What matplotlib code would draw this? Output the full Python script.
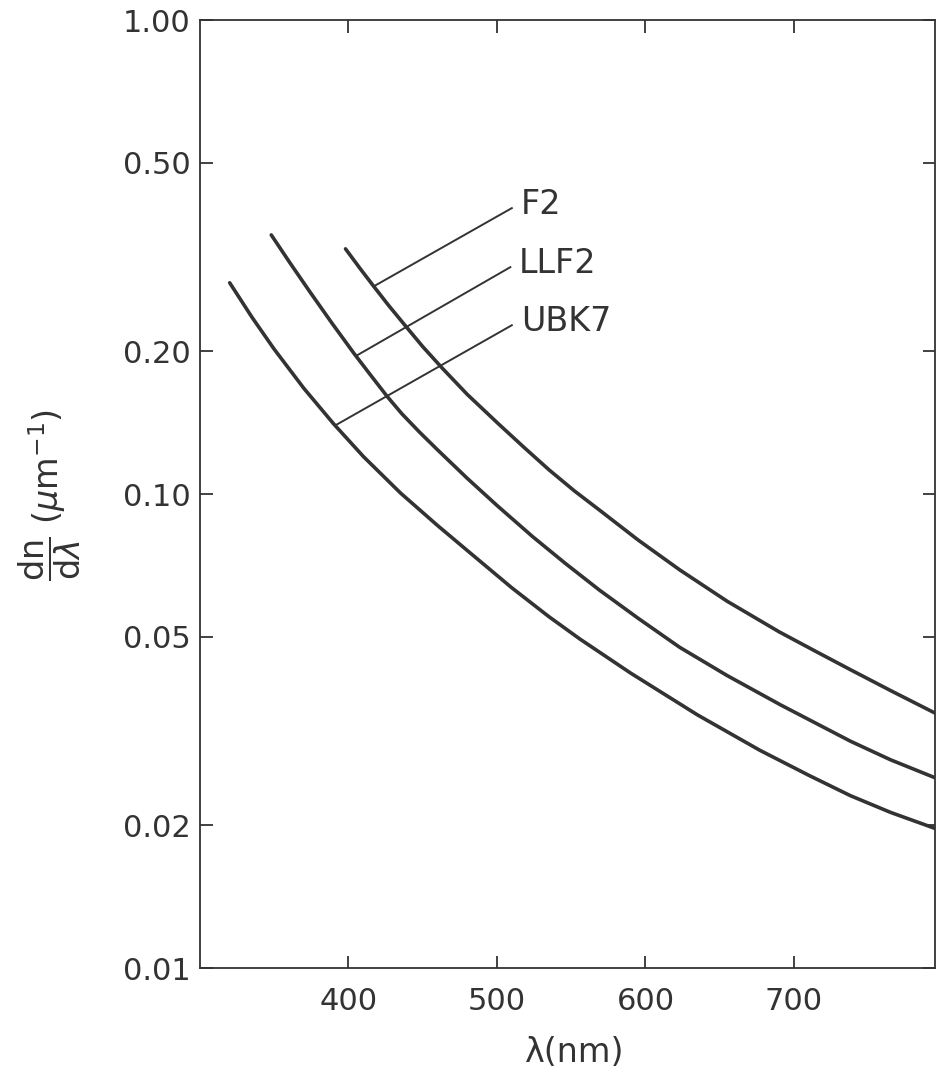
import numpy as np
import matplotlib.pyplot as plt

# values (wavelength in nm, dn/dlambda in 1/um)
wl_f2 = [398, 408, 417, 427, 437, 450, 463, 480, 501, 518, 535, 552, 569, 595,
         623, 655, 690, 715, 738, 765, 795]
dn_f2 = [0.329, 0.2985, 0.2742, 0.250, 0.229, 0.2046, 0.1845, 0.1622, 0.1406, 0.1256,
         0.1125, 0.1016, 0.0925, 0.080, 0.0692, 0.0594, 0.0512, 0.0465, 0.0426, 0.0385, 0.0345]

wl_llf2 = [348, 361, 374, 389, 404, 415, 426, 436, 448, 460, 480, 500, 524, 546, 569,
           595, 623, 655, 691, 738, 765, 795]
dn_llf2 = [0.352, 0.306, 0.267, 0.229, 0.1974, 0.178, 0.1607, 0.1476, 0.1349, 0.1239,
           0.1079, 0.0946, 0.0813, 0.0714, 0.0627, 0.0547, 0.0475, 0.0414, 0.0359,
           0.0301, 0.0275, 0.0252]

wl_ubk7 = [320, 335, 350, 370, 390, 410, 435, 460, 480, 510, 535, 556, 590, 635,
           677, 710, 738, 765, 795]
dn_ubk7 = [0.279, 0.236, 0.202, 0.167, 0.1406, 0.1200, 0.1005, 0.0858, 0.0760, 0.0634,
           0.0551, 0.0494, 0.0419, 0.0342, 0.0288, 0.0255, 0.0231, 0.0213, 0.0197]

glass_names = ['F2', 'LLF2', 'UBK7']
# leader line: point on curve -> point near label
leader_start = [(417, 0.2742), (405, 0.1955), (391, 0.1395)]
leader_end = [(510, 0.401), (509, 0.301), (510, 0.227)]

y_ticks = [1.0, 0.5, 0.2, 0.1, 0.05, 0.02, 0.01]
y_ticklabels = ['1.00', '0.50', '0.20', '0.10', '0.05', '0.02', '0.01']
x_ticks = [400, 500, 600, 700]

plt.rcParams['mathtext.fontset'] = 'dejavusans'
ink = '#333333'

fig = plt.figure(figsize=(9.38, 10.75), dpi=100)
ax = fig.add_axes([200/938, 1 - 968/1075, 735/938, 948/1075])

for wl, dn in [(wl_f2, dn_f2), (wl_llf2, dn_llf2), (wl_ubk7, dn_ubk7)]:
    ax.plot(wl, dn, color=ink, lw=2.6, solid_capstyle='round', solid_joinstyle='round')

for name, (x0, y0), (x1, y1) in zip(glass_names, leader_start, leader_end):
    ax.plot([x0, x1], [y0, y1], color=ink, lw=1.4)
    ax.text(x1 + 6, y1 * 1.02, name, fontsize=24, color=ink, ha='left', va='center')

ax.set_yscale('log')
ax.set_xlim(300, 795)
ax.set_ylim(0.01, 1.0)
ax.set_yticks(y_ticks)
ax.set_yticklabels(y_ticklabels)
ax.minorticks_off()
ax.set_xticks(x_ticks)
ax.tick_params(direction='in', length=9, width=1.3, color=ink, labelcolor=ink,
               top=True, right=True, labelsize=22)
ax.tick_params(axis='x', pad=14)
ax.tick_params(axis='y', pad=7)
for s in ax.spines.values():
    s.set_color(ink)
    s.set_linewidth(1.3)

fig.text(575/938, 1 - 1052/1075, 'λ(nm)', fontsize=24, color=ink,
         ha='center', va='center')
fig.text(50/938, 1 - 495/1075,
         r'$\dfrac{\mathrm{dn}}{\mathrm{d}\lambda}\ (\mu\mathrm{m}^{-1})$',
         fontsize=24, color=ink, rotation=90, ha='center', va='center')

fig.savefig('out.png', dpi=100, facecolor='white')
